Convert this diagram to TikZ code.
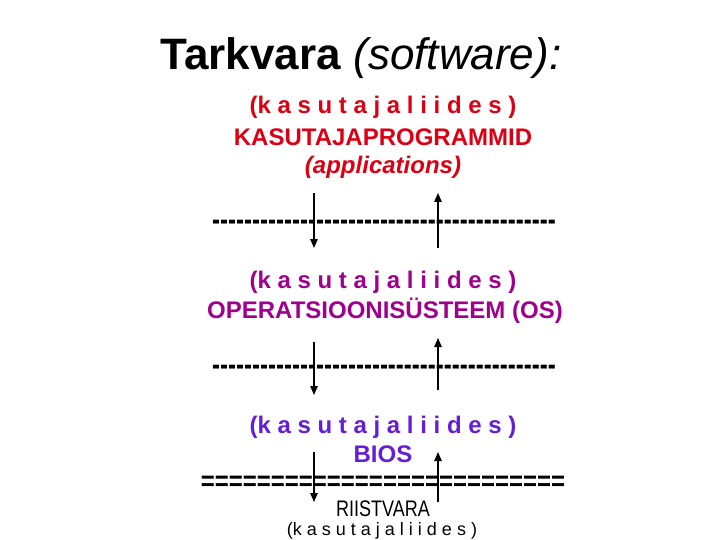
\documentclass[tikz,border=0pt]{standalone}
\usepackage{fontspec}
\setmainfont{Liberation Sans}
\usetikzlibrary{arrows.meta}
\definecolor{appred}{RGB}{220,0,20}
\definecolor{ospurple}{RGB}{160,0,140}
\definecolor{biosblue}{RGB}{100,30,215}
\newcommand\rephy[1]{\scalebox{1}[1.35]{\foreach \i in {1,...,#1}{-\kern0pt}}}
\newcommand\repeq[1]{\scalebox{1}[1.15]{\foreach \i in {1,...,#1}{=}}}
\tikzset{
  txt/.style={inner sep=0pt, anchor=base, font=\bfseries\fontsize{24}{28}\selectfont},
  small/.style={inner sep=0pt, anchor=base, font=\fontsize{18}{22}\selectfont},
  flow/.style={line width=1.2pt, -{Triangle[length=9pt,width=7.5pt]}}
}
\begin{document}
\begin{tikzpicture}[x=1pt,y=-1pt]
\useasboundingbox (0,0) rectangle (720,540);
% title
\node[inner sep=0pt, anchor=base, font=\fontsize{44}{50}\selectfont] (title) at (361,70)
  {\textbf{Tarkvara} \textit{(software):}};
% applications
\node[txt, text=appred] (ui1) at (383,114) {(k a s u t a j a l i i d e s )};
\node[txt, text=appred] (apps) at (383,146) {KASUTAJAPROGRAMMID};
\node[txt, text=appred, font=\bfseries\itshape\fontsize{24}{28}\selectfont] (appl) at (383,174) {(applications)};
% dashed 1
\node[txt] (dash1) at (384,230) {\rephy{43}};
% OS
\node[txt, text=ospurple] (ui2) at (383,288) {(k a s u t a j a l i i d e s )};
\node[txt, text=ospurple] (os) at (385,318) {OPERATSIOONISÜSTEEM (OS)};
% dashed 2
\node[txt] (dash2) at (384,375) {\rephy{43}};
% BIOS
\node[txt, text=biosblue] (ui3) at (383,433) {(k a s u t a j a l i i d e s )};
\node[txt, text=biosblue] (bios) at (383,462) {BIOS};
% equals
\node[txt] (eq) at (383,490) {\repeq{26}};
% hardware
\node[small] (hw) at (383,516) {\scalebox{1}[1.25]{RIISTVARA}};
\node[small] (ui4) at (382,535) {(k a s u t a j a l i i d e s )};
% arrows
\coordinate (a1s) at (314,193); \coordinate (a1e) at (314,248);
\coordinate (a2s) at (438,248); \coordinate (a2e) at (438,193);
\coordinate (a3s) at (314,342); \coordinate (a3e) at (314,395);
\coordinate (a4s) at (438,390); \coordinate (a4e) at (438,338);
\coordinate (a5s) at (314,452); \coordinate (a5e) at (314,502);
\coordinate (a6s) at (438,502); \coordinate (a6e) at (438,452);
\draw[flow] (a1s) -- (a1e);
\draw[flow] (a2s) -- (a2e);
\draw[flow] (a3s) -- (a3e);
\draw[flow] (a4s) -- (a4e);
\draw[flow] (a5s) -- (a5e);
\draw[flow] (a6s) -- (a6e);
\end{tikzpicture}
\end{document}
